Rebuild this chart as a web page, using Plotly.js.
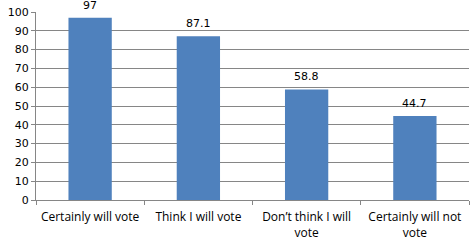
<!DOCTYPE html>
<html>
<head>
<meta charset="utf-8">
<script src="https://cdn.plot.ly/plotly-3.0.1.min.js"></script>
<style>html,body{margin:0;padding:0;background:#fff;}#chart{width:473px;height:245px;}</style>
</head>
<body>
<div id="chart"></div>
<script>
const categories = ["Certainly will vote", "Think I will vote", "Don\u2019t think I will<br>vote", "Certainly will not<br>vote"];
const values = [97, 87.1, 58.8, 44.7];
const valueLabels = ["97", "87.1", "58.8", "44.7"];
const yTicks = [0, 10, 20, 30, 40, 50, 60, 70, 80, 90, 100];

const trace = {
  type: "bar",
  x: categories,
  y: values,
  marker: {color: "#4F81BD"},
  hoverinfo: "none"
};

const annotations = categories.map((c, i) => ({
  x: c, y: values[i], xref: "x", yref: "y",
  text: valueLabels[i], showarrow: false,
  yanchor: "bottom", yshift: 4,
  font: {family: "DejaVu Sans, sans-serif", size: 11, color: "#000"}
}));

const layout = {
  width: 473, height: 245,
  margin: {l: 36, r: 4, t: 12, b: 45},
  paper_bgcolor: "#fff", plot_bgcolor: "#fff",
  showlegend: false,
  bargap: 0.6,
  annotations: annotations,
  font: {family: "DejaVu Sans, sans-serif", size: 11, color: "#000"},
  xaxis: {
    type: "category",
    showline: true, linecolor: "#868686", linewidth: 1,
    ticks: "outside", tickson: "boundaries", ticklen: 4, tickcolor: "#868686",
    showgrid: false, zeroline: false,
    ticklabelstandoff: 6,
    tickfont: {family: "Open Sans, sans-serif", size: 12, color: "#000"}
  },
  yaxis: {
    range: [0, 100],
    tickvals: yTicks,
    ticktext: yTicks.map(String),
    showline: true, linecolor: "#868686", linewidth: 1,
    ticks: "outside", ticklen: 4, tickcolor: "#868686",
    showgrid: true, gridcolor: "#868686", gridwidth: 1,
    zeroline: false,
    tickfont: {family: "DejaVu Sans, sans-serif", size: 11, color: "#000"}
  }
};

Plotly.newPlot("chart", [trace], layout, {staticPlot: true, displayModeBar: false});
</script>
</body>
</html>
